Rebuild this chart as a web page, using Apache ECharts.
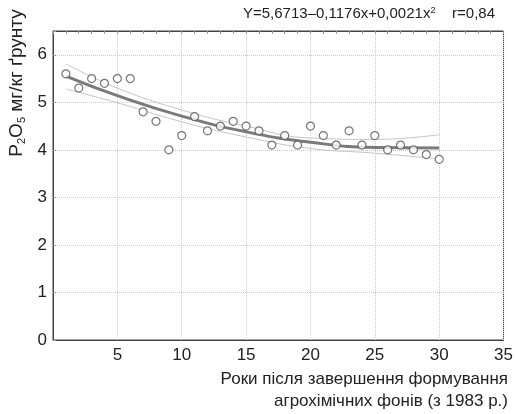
<!DOCTYPE html>
<html>
<head>
<meta charset="utf-8">
<script src="https://cdn.jsdelivr.net/npm/echarts@6/dist/echarts.min.js"></script>
<style>
  html, body { margin: 0; padding: 0; background: #fff; }
  #main { width: 516px; height: 414px; }
</style>
</head>
<body>
<div id="main"></div>
<script>
// роки (x) та спостереження P2O5
var years = [1, 2, 3, 4, 5, 6, 7, 8, 9, 10, 11, 12, 13, 14, 15,
             16, 17, 18, 19, 20, 21, 22, 23, 24, 25, 26, 27, 28, 29, 30];
var p2o5 = [5.6, 5.3, 5.5, 5.4, 5.5, 5.5, 4.8, 4.6, 4.0, 4.3, 4.7, 4.4, 4.5, 4.6, 4.5,
            4.4, 4.1, 4.3, 4.1, 4.5, 4.3, 4.1, 4.4, 4.1, 4.3, 4.0, 4.1, 4.0, 3.9, 3.8];

// лінія регресії і довірчі межі
var fitX = [1, 5, 10, 15, 20, 25, 30];
var fitY = [5.55, 5.14, 4.71, 4.38, 4.16, 4.05, 4.04];
var upperY = [5.81, 5.30, 4.84, 4.50, 4.25, 4.22, 4.32];
var lowerY = [5.28, 4.99, 4.59, 4.27, 4.03, 3.93, 3.81];

var xTicks = [5, 10, 15, 20, 25, 30, 35];
var yTicks = [0, 1, 2, 3, 4, 5, 6];

function pairs(xs, ys) {
    var out = [];
    for (var i = 0; i < xs.length; i++) out.push([xs[i], ys[i]]);
    return out;
}

var font = 'Liberation Sans, Arial, sans-serif';
var myChart = echarts.init(document.getElementById('main'));

var option = {
    animation: false,
    textStyle: { fontFamily: font },
    grid: {
        left: 53, right: 8, top: 31, bottom: 74,
        show: true, borderColor: '#444', borderWidth: 1
    },
    xAxis: [{
        type: 'value',
        min: 0, max: 35, interval: 5,
        axisLine: { show: true, lineStyle: { color: '#444' } },
        axisTick: { show: false },
        axisLabel: {
            color: '#222', fontSize: 17, margin: 7, fontFamily: font,
            formatter: function (v) { return xTicks.indexOf(v) >= 0 ? String(v) : ''; }
        },
        splitLine: { show: true, lineStyle: { color: '#ccc', type: 'dotted' } }
    }, {
        type: 'value', position: 'top',
        min: 0, max: 35, interval: 1,
        axisLine: { show: true, lineStyle: { color: '#444' } },
        axisTick: { show: true, inside: true, length: 3, lineStyle: { color: '#999' } },
        axisLabel: { show: false },
        splitLine: { show: false }
    }],
    yAxis: {
        type: 'value',
        min: 0, max: 6.5, interval: 1,
        axisLine: { show: true, lineStyle: { color: '#444' } },
        axisTick: { show: true, inside: true, length: 3, lineStyle: { color: '#999' } },
        axisLabel: {
            color: '#222', fontSize: 17, margin: 6, fontFamily: font,
            formatter: function (v) { return yTicks.indexOf(v) >= 0 ? String(v) : ''; }
        },
        splitLine: { show: true, lineStyle: { color: '#ccc', type: 'dotted' } }
    },
    graphic: [{
        type: 'text',
        right: 21, top: 6,
        style: {
            text: 'Y=5,6713–0,1176x+0,0021x{s|2}    r=0,84',
            font: '15px ' + font,
            fill: '#222',
            rich: { s: { fontSize: 9, verticalAlign: 'top', padding: [0, 0, 6, 0] } }
        }
    }, {
        type: 'text',
        x: 17, y: 83,
        rotation: Math.PI / 2,
        style: {
            text: 'P{s|2}O{s|5} мг/кг ґрунту',
            font: '19px ' + font,
            fill: '#222',
            align: 'center',
            verticalAlign: 'middle',
            rich: { s: { fontSize: 11, padding: [10, 0, 0, 0] } }
        }
    }, {
        type: 'text',
        right: 8, top: 371,
        style: {
            text: 'Роки після завершення формування',
            font: '17px ' + font,
            fill: '#222'
        }
    }, {
        type: 'text',
        right: 8, top: 393,
        style: {
            text: 'агрохімічних фонів (з 1983 р.)',
            font: '17px ' + font,
            fill: '#222'
        }
    }],
    series: [{
        type: 'line',
        data: pairs(fitX, upperY),
        smooth: true,
        symbol: 'none',
        lineStyle: { color: '#c4c4c4', width: 1 },
        z: 2
    }, {
        type: 'line',
        data: pairs(fitX, lowerY),
        smooth: true,
        symbol: 'none',
        lineStyle: { color: '#c4c4c4', width: 1 },
        z: 2
    }, {
        type: 'line',
        data: pairs(fitX, fitY),
        smooth: true,
        symbol: 'none',
        lineStyle: { color: '#7a7a7a', width: 3 },
        z: 3
    }, {
        type: 'scatter',
        data: pairs(years, p2o5),
        symbol: 'circle',
        symbolSize: 8,
        itemStyle: { color: '#fff', borderColor: '#555', borderWidth: 1.2 },
        z: 4
    }]
};

myChart.setOption(option);
</script>
</body>
</html>
